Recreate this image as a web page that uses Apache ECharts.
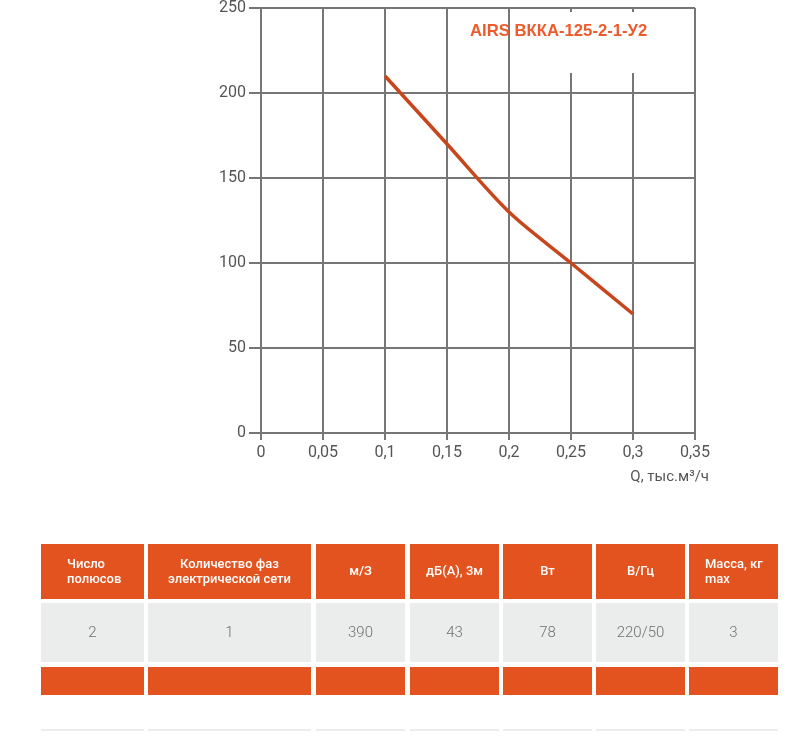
<!DOCTYPE html>
<html>
<head>
<meta charset="utf-8">
<script src="https://cdn.jsdelivr.net/npm/echarts@6/dist/echarts.min.js"></script>
<style>
html,body{margin:0;padding:0;background:#fff;}
#chart{width:810px;height:741px;}
</style>
</head>
<body>
<div id="chart"></div>
<script>
// ---- data ----
const flowQ = [0.1, 0.15, 0.2, 0.25, 0.3];      // тыс. м³/ч
const pressure = [210, 170, 130, 100, 70];       // Па
const modelName = 'AIRS ВККА-125-2-1-У2';
const xAxisName = 'Q, тыс.м³/ч';
const tableHeaders = ['Число\nполюсов', 'Количество фаз\nэлектрической сети', 'м/З', 'дБ(А), 3м', 'Вт', 'В/Гц', 'Масса, кг\nmax'];
const tableValues = ['2', '1', '390', '43', '78', '220/50', '3'];

// ---- layout / style ----
const colBounds = [[41,144],[148,311],[316,405],[410,499],[503,592],[596,685],[689,778]];
const headAlign = ['left','center','center','center','center','center','left'];
const headLeftX = [67, 0, 0, 0, 0, 0, 705];
const ORANGE = '#e2531f';
const GRAYCELL = '#ebecec';

const chart = echarts.init(document.getElementById('chart'), null, {renderer:'canvas'});

const graphics = [];
// title backdrop and title
graphics.push({type:'rect', left:541, top:12, shape:{width:124, height:61}, style:{fill:'#fff'}, z:50, silent:true});
graphics.push({type:'text', left:470, top:23, style:{text:modelName, fill:'#ee5b2b', font:'bold 16.7px "Liberation Sans", Arial, sans-serif'}, z:60});
// axis name
graphics.push({type:'text', right:101, top:470, style:{text:xAxisName, fill:'#555', font:'15px Roboto, sans-serif'}, z:60});

// table
colBounds.forEach((b, i) => {
  const w = b[1] - b[0];
  graphics.push({type:'rect', shape:{x:b[0], y:544, width:w, height:55}, style:{fill:ORANGE}, silent:true});
  graphics.push({type:'rect', shape:{x:b[0], y:603, width:w, height:59}, style:{fill:GRAYCELL}, silent:true});
  graphics.push({type:'rect', shape:{x:b[0], y:667, width:w, height:28}, style:{fill:ORANGE}, silent:true});
  graphics.push({type:'rect', shape:{x:b[0], y:729, width:w, height:2}, style:{fill:GRAYCELL}, silent:true});
  const cx = headAlign[i] === 'left' ? headLeftX[i] : (b[0] + b[1]) / 2;
  graphics.push({type:'text', x:cx, y:572, style:{text:tableHeaders[i], fill:'#fff', font:'500 13px Roboto, sans-serif', textAlign:headAlign[i], textVerticalAlign:'middle', lineHeight:15}});
  graphics.push({type:'text', x:(b[0] + b[1]) / 2, y:633, style:{text:tableValues[i], fill:'#707070', font:'300 15px Roboto, sans-serif', textAlign:'center', textVerticalAlign:'middle'}});
});

const gridColor = '#767676';

chart.setOption({
  animation:false,
  backgroundColor:'#fff',
  grid:{left:261, right:115, top:8, bottom:308, containLabel:false},
  xAxis:{
    type:'value', min:0, max:0.35, interval:0.05,
    axisLine:{show:true, lineStyle:{color:gridColor, width:2}},
    axisTick:{show:true, length:7, lineStyle:{color:gridColor, width:2}},
    splitLine:{show:true, lineStyle:{color:gridColor, width:2}},
    axisLabel:{color:'#555', fontSize:16, fontFamily:'Roboto', margin:12,
      formatter:v => v === 0 ? '0' : String(+v.toFixed(2)).replace('.', ',')}
  },
  yAxis:{
    type:'value', min:0, max:250, interval:50,
    axisLine:{show:true, lineStyle:{color:gridColor, width:2}},
    axisTick:{show:true, length:12, lineStyle:{color:gridColor, width:2}},
    splitLine:{show:true, lineStyle:{color:gridColor, width:2}},
    axisLabel:{color:'#555', fontSize:16, fontFamily:'Roboto', margin:15}
  },
  series:[{
    type:'line', smooth:0.3, symbol:'none',
    data:flowQ.map((q, i) => [q, pressure[i]]),
    lineStyle:{color:'#c8461c', width:3.5}, z:10
  }],
  graphic:graphics
});
</script>
</body>
</html>
